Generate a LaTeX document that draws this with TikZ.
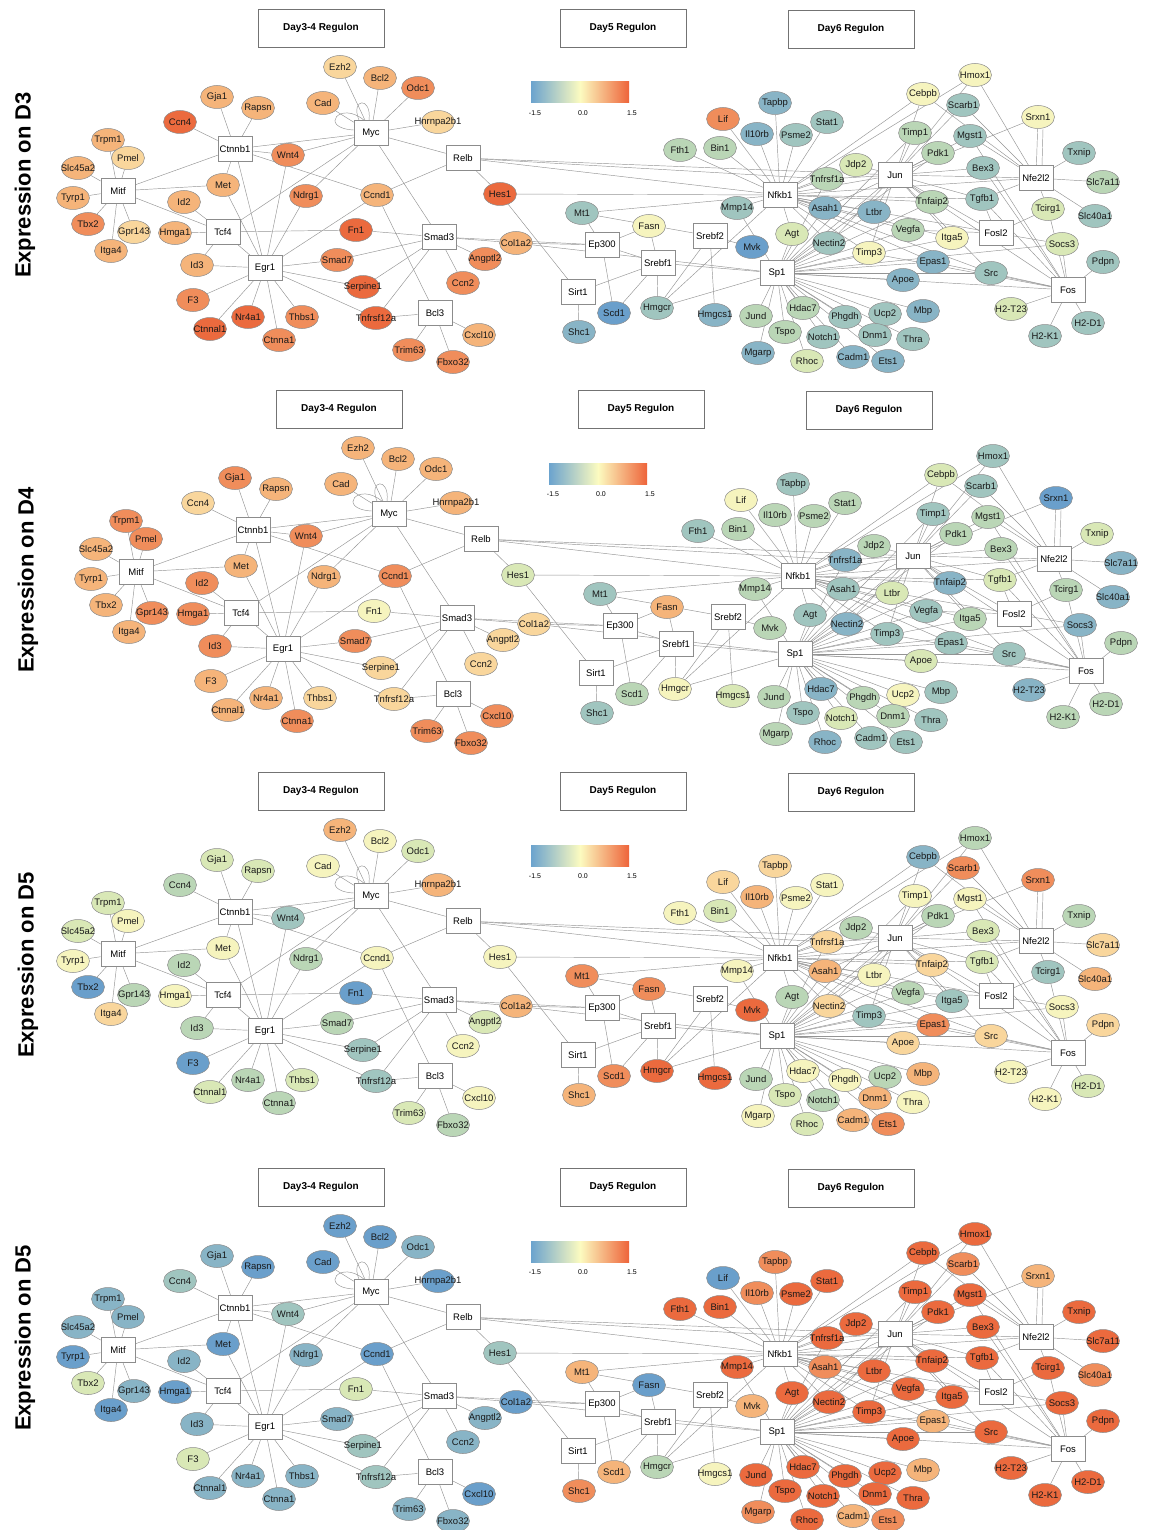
\documentclass[tikz,border=0pt]{standalone}
\usepackage{fontspec}
\setmainfont{Liberation Sans}
\usetikzlibrary{shapes.geometric}
\pgfdeclarelayer{bg}\pgfsetlayers{bg,main}
\definecolor{c0}{HTML}{6A9FCB}
\definecolor{c1}{HTML}{88B4C6}
\definecolor{c2}{HTML}{A0C5BF}
\definecolor{c3}{HTML}{BAD6B6}
\definecolor{c4}{HTML}{D9E8B6}
\definecolor{c5}{HTML}{F6F4BE}
\definecolor{c6}{HTML}{F9D69C}
\definecolor{c7}{HTML}{F5B47A}
\definecolor{c8}{HTML}{F08D5B}
\definecolor{c9}{HTML}{EB6A3E}
\definecolor{cbB}{HTML}{6BA3CE}
\definecolor{cbY}{HTML}{FCFBC0}
\definecolor{cbR}{HTML}{EE643A}
\tikzset{
  gene/.style={ellipse, draw=black!45, line width=0.5pt, minimum width=33pt, minimum height=23pt, inner sep=0pt, font=\fontsize{9.5}{10}\selectfont, text=black!90},
  reg/.style={rectangle, draw=black!45, fill=white, line width=0.6pt, minimum width=34pt, minimum height=25pt, inner sep=0pt, font=\fontsize{9.5}{10}\selectfont},
  edge/.style={draw=black!42, line width=0.45pt},
  hdr/.style={rectangle, draw=black!55, line width=0.7pt, minimum width=126pt, minimum height=38pt, font=\bfseries\fontsize{10}{12}\selectfont},
  side/.style={rotate=90, font=\bfseries\fontsize{22}{26}\selectfont},
  cblab/.style={font=\fontsize{7}{8}\selectfont, inner sep=0pt}
}
\def\pidx{1}
\def\getcol#1#2#3#4\relax{\edef\thecol{c\ifcase\pidx\or#1\or#2\or#3\or#4\fi}}
\newcommand\G[5]{\getcol#5\relax\node[gene,fill=\thecol] (#1) at (#3,#4) {\makebox[0pt]{#2}};}
\newcommand\R[3]{\node[reg] (#1) at (#2,#3) {#1};}
\newcommand\fan[2]{\foreach \t in {#2}{\draw[edge] (#1) -- (\t);}}
\newcommand\panel{%
  \node[hdr] (hA) at (321,28) {Day3-4 Regulon};
  \node[hdr] (hB) at (623,28) {Day5 Regulon};
  \node[hdr] (hC) at (851,29) {Day6 Regulon};
  \shade[left color=cbB, right color=cbR, middle color=cbY] (531,82) rectangle (629,103);
  \node[cblab] (cbA) at (535,113) {-1.5};
  \node[cblab] (cbB) at (583,113) {0.0};
  \node[cblab] (cbC) at (632,113) {1.5};
  % regulators
  \R{Myc}{371}{133}\R{Ctnnb1}{235}{149}\R{Mitf}{118}{191}\R{Tcf4}{223}{232}
  \R{Egr1}{265}{268}\R{Smad3}{439}{237}\R{Bcl3}{435}{313}\R{Relb}{463}{158}
  \R{Ep300}{602}{245}\R{Sirt1}{578}{292}\R{Srebf1}{658}{263}\R{Srebf2}{710}{236}
  \R{Nfkb1}{780}{195}\R{Sp1}{777}{273}\R{Jun}{895}{175}\R{Nfe2l2}{1036}{178}
  \R{Fosl2}{996}{233}\R{Fos}{1068}{290}
  % Day3-4 targets
  \G{Ezh2}{Ezh2}{340}{67}{6770}\G{Bcl2}{Bcl2}{380}{78}{7750}\G{Odc1}{Odc1}{418}{88}{8741}
  \G{Cad}{Cad}{323}{103}{7750}\G{Hnrnpa2b1}{Hnrnpa2b1}{438}{122}{6770}
  \G{Gja1}{Gja1}{217}{97}{7841}\G{Rapsn}{Rapsn}{258}{108}{7740}\G{Ccn4}{Ccn4}{180}{122}{9632}
  \G{Trpm1}{Trpm1}{108}{140}{7841}\G{Pmel}{Pmel}{128}{158}{6851}\G{Slc45a2}{Slc45a2}{78}{168}{7741}
  \G{Tyrp1}{Tyrp1}{73}{198}{7750}\G{Tbx2}{Tbx2}{88}{224}{8704}\G{Gpr143}{Gpr143}{134}{232}{6831}
  \G{Itga4}{Itga4}{111}{251}{7760}\G{Met}{Met}{223}{185}{7750}\G{Id2}{Id2}{184}{202}{7831}
  \G{Hmga1}{Hmga1}{175}{233}{7850}\G{Id3}{Id3}{197}{265}{7831}\G{Wnt4}{Wnt4}{288}{155}{8822}
  \G{Ndrg1}{Ndrg1}{306}{196}{8731}\G{Fn1}{Fn1}{356}{230}{9504}\G{Ccnd1}{Ccnd1}{377}{195}{7850}
  \G{Smad7}{Smad7}{337}{260}{8831}\G{Serpine1}{Serpine1}{363}{287}{9622}\G{F3}{F3}{193}{300}{8704}
  \G{Nr4a1}{Nr4a1}{248}{317}{9731}\G{Thbs1}{Thbs1}{302}{317}{8641}\G{Ctnnal1}{Ctnnal1}{210}{329}{9741}
  \G{Ctnna1}{Ctnna1}{279}{340}{8831}\G{Tnfrsf12a}{Tnfrsf12a}{376}{318}{9622}\G{Col1a2}{Col1a2}{516}{243}{7670}
  \G{Angptl2}{Angptl2}{485}{259}{8641}\G{Ccn2}{Ccn2}{463}{283}{8651}\G{Cxcl10}{Cxcl10}{479}{335}{7850}
  \G{Trim63}{Trim63}{409}{350}{8841}\G{Fbxo32}{Fbxo32}{453}{362}{8831}\G{Hes1}{Hes1}{500}{194}{9452}
  % Day5 targets
  \G{Mt1}{Mt1}{582}{213}{2287}\G{Fasn}{Fasn}{649}{226}{5780}\G{Scd1}{Scd1}{614}{313}{0387}
  \G{Shc1}{Shc1}{579}{332}{1278}\G{Hmgcr}{Hmgcr}{657}{308}{2593}\G{Hmgcs1}{Hmgcs1}{715}{315}{1495}
  \G{Mvk}{Mvk}{752}{247}{0397}
  % Day6 targets
  \G{Lif}{Lif}{723}{119}{8560}\G{Tapbp}{Tapbp}{775}{103}{1268}\G{Il10rb}{Il10rb}{757}{134}{1378}
  \G{Psme2}{Psme2}{796}{135}{2359}\G{Stat1}{Stat1}{827}{122}{2359}\G{Fth1}{Fth1}{680}{150}{3259}
  \G{Bin1}{Bin1}{720}{148}{3349}\G{Mmp14}{Mmp14}{737}{208}{2359}\G{Tnfrsf1a}{Tnfrsf1a}{827}{179}{3169}
  \G{Jdp2}{Jdp2}{856}{165}{4339}\G{Asah1}{Asah1}{825}{208}{1278}\G{Ltbr}{Ltbr}{874}{212}{1459}
  \G{Agt}{Agt}{792}{234}{4239}\G{Nectin2}{Nectin2}{829}{243}{2169}\G{Timp3}{Timp3}{869}{253}{5229}
  \G{Jund}{Jund}{756}{316}{3339}\G{Hdac7}{Hdac7}{803}{308}{3159}\G{Tspo}{Tspo}{785}{332}{3249}
  \G{Phgdh}{Phgdh}{845}{317}{2359}\G{Notch1}{Notch1}{823}{337}{2439}\G{Mgarp}{Mgarp}{758}{353}{1358}
  \G{Rhoc}{Rhoc}{807}{361}{4149}\G{Cadm1}{Cadm1}{853}{357}{1277}\G{Ets1}{Ets1}{888}{361}{1288}
  \G{Ucp2}{Ucp2}{885}{314}{2539}\G{Dnm1}{Dnm1}{875}{335}{2379}\G{Thra}{Thra}{913}{339}{2259}
  \G{Mbp}{Mbp}{923}{311}{1277}\G{Apoe}{Apoe}{903}{280}{1469}\G{Epas1}{Epas1}{933}{262}{1287}
  \G{Vegfa}{Vegfa}{908}{230}{3239}\G{Itga5}{Itga5}{952}{238}{5329}\G{Tnfaip2}{Tnfaip2}{932}{202}{3169}
  \G{Timp1}{Timp1}{915}{133}{3259}\G{Pdk1}{Pdk1}{938}{153}{3339}\G{Cebpb}{Cebpb}{923}{94}{5419}
  \G{Hmox1}{Hmox1}{975}{75}{5239}\G{Scarb1}{Scarb1}{963}{105}{2288}\G{Mgst1}{Mgst1}{970}{136}{2359}
  \G{Bex3}{Bex3}{983}{168}{2349}\G{Tgfb1}{Tgfb1}{982}{199}{2449}\G{Srxn1}{Srxn1}{1038}{117}{5087}
  \G{Txnip}{Txnip}{1079}{153}{2439}\G{Slc7a11}{Slc7a11}{1103}{182}{3169}\G{Tcirg1}{Tcirg1}{1048}{209}{4329}
  \G{Slc40a1}{Slc40a1}{1095}{216}{2178}\G{Socs3}{Socs3}{1062}{244}{4159}\G{Pdpn}{Pdpn}{1103}{262}{2369}
  \G{Src}{Src}{991}{273}{2269}\G{H2T23}{H2-T23}{1011}{309}{4159}\G{H2K1}{H2-K1}{1045}{336}{2359}
  \G{H2D1}{H2-D1}{1088}{323}{2349}
  \begin{pgfonlayer}{bg}
  \draw[edge] ([xshift=-7pt]Myc.north) .. controls (340,100) and (318,128) .. ([yshift=3pt]Myc.west);
  \draw[edge] ([xshift=-12pt]Myc.north) .. controls (350,98) and (372,96) .. ([xshift=-2pt]Myc.north);
  \fan{Mitf}{Trpm1,Pmel,Slc45a2,Tyrp1,Tbx2,Gpr143,Itga4,Ctnnb1,Met,Tcf4}
  \fan{Ctnnb1}{Gja1,Rapsn,Ccn4,Myc,Wnt4,Met,Egr1,Ccnd1}
  \fan{Myc}{Ezh2,Bcl2,Odc1,Cad,Hnrnpa2b1,Wnt4,Tcf4,Ndrg1,Relb,Smad3}
  \fan{Tcf4}{Id2,Hmga1,Id3,Fn1,Egr1}
  \fan{Egr1}{Id3,F3,Ctnnal1,Nr4a1,Ctnna1,Thbs1,Ndrg1,Wnt4,Met,Smad7,Serpine1,Tnfrsf12a,Ccnd1}
  \fan{Smad3}{Fn1,Smad7,Serpine1,Tnfrsf12a,Col1a2,Angptl2,Ccn2,Ep300}
  \fan{Bcl3}{Tnfrsf12a,Cxcl10,Trim63,Fbxo32,Ccnd1}
  \fan{Relb}{Ccnd1,Hes1,Nfkb1,Jun,Tnfrsf1a}
  \fan{Hes1}{Sirt1,Nfkb1}
  \fan{Col1a2}{Ep300,Sp1}
  \fan{Ep300}{Mt1,Fasn,Scd1,Srebf1}
  \fan{Mt1}{Nfkb1,Srebf2}
  \fan{Sirt1}{Shc1,Srebf1}
  \fan{Srebf1}{Fasn,Scd1,Hmgcr,Sp1}
  \fan{Srebf2}{Hmgcr,Hmgcs1,Mvk}
  \fan{Nfkb1}{Lif,Tapbp,Il10rb,Psme2,Stat1,Fth1,Bin1,Mmp14,Tnfrsf1a,Jdp2,Asah1,Agt,Ltbr,Nectin2,Hmgcr,Jun,Cebpb,Hmox1,Tnfaip2,Vegfa,Timp3,Itga5,Epas1,Fosl2,Nfe2l2,Tgfb1,Src}
  \fan{Sp1}{Hmgcr,Agt,Asah1,Nectin2,Timp3,Jund,Tspo,Mgarp,Hdac7,Rhoc,Notch1,Phgdh,Cadm1,Ucp2,Dnm1,Ets1,Thra,Mbp,Apoe,Epas1,Src,Fos,Vegfa,Ltbr,Tnfaip2,Jun,Timp1,Pdk1,Mmp14,Tnfrsf1a,Itga5,Socs3}
  \fan{Jun}{Jdp2,Tnfrsf1a,Timp1,Pdk1,Cebpb,Scarb1,Mgst1,Bex3,Nfe2l2,Tnfaip2,Tgfb1,Ltbr,Asah1,Nectin2,Timp3,Fosl2,Itga5,Fos,Hmox1,Src,Srxn1}
  \fan{Nfe2l2}{Hmox1,Srxn1,Txnip,Slc7a11,Slc40a1,Mgst1,Scarb1,Tgfb1,Tcirg1,Cebpb}
  \draw[edge] ([xshift=6pt]Nfe2l2.north) -- ([xshift=5pt]Srxn1.south);
  \fan{Fosl2}{Tgfb1,Tcirg1,Vegfa,Socs3}
  \fan{Fos}{Pdpn,H2T23,H2K1,H2D1,Socs3,Src,Tcirg1,Bex3,Mgst1,Epas1,Tgfb1,Timp3}
  \end{pgfonlayer}
}
\begin{document}
\begin{tikzpicture}[x=1pt,y=-1pt]
\begin{pgfonlayer}{bg}
\fill[white] (0,0) rectangle (1149,1530);
\end{pgfonlayer}
\useasboundingbox (0,0) rectangle (1149,1530);
\def\pidx{1}
\begin{scope}\panel\end{scope}
\def\pidx{2}
\begin{scope}[xshift=18pt,yshift=-381pt]\panel\end{scope}
\def\pidx{3}
\begin{scope}[yshift=-763pt]\panel\end{scope}
\def\pidx{4}
\begin{scope}[yshift=-1159pt]\panel\end{scope}
\node[side] (sA) at (25,185) {Expression on D3};
\node[side] (sB) at (28,580) {Expression on D4};
\node[side] (sC) at (28,965) {Expression on D5};
\node[side] (sD) at (25,1338) {Expression on D5};
\end{tikzpicture}
\end{document}
